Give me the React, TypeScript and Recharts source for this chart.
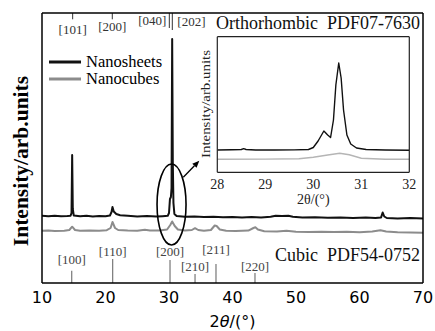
import React from 'react';
import { LineChart, Line, XAxis, YAxis, ReferenceLine, ReferenceDot, Legend } from 'recharts';

// ---------- main pattern (2θ in degrees, intensity in arbitrary units) ----------
const sheetTheta = [10, 11, 12, 13, 14, 14.5, 14.65, 14.75, 14.85, 15, 16, 17, 18, 19, 20, 20.7, 20.95, 21.1, 21.3, 21.7, 22.3, 23.5, 25, 26.5, 28, 29, 29.8, 30, 30.15, 30.3, 30.4, 30.5, 30.6, 30.7, 30.85, 31.2, 32.5, 34, 35.5, 37, 38.5, 40, 41.5, 43, 44.5, 46, 46.8, 47.8, 48.8, 49.5, 51, 53, 55, 57, 59, 61, 62.5, 63.4, 63.65, 63.9, 64.3, 66, 68, 70];
const sheetIntensity = [67.2, 66.8, 67.3, 66.7, 67.0, 67.3, 70, 128, 74, 67.5, 66.8, 67.2, 66.6, 67.0, 66.8, 67.5, 71, 76, 71.5, 69, 67.8, 67.2, 66.6, 67.0, 66.4, 66.8, 67.2, 70, 84, 86, 95, 244, 120, 80, 69, 67, 66.3, 66.6, 66.0, 66.3, 65.8, 66.1, 65.6, 65.9, 65.5, 66.3, 67.3, 67.0, 67.2, 66.2, 65.5, 65.8, 65.2, 65.5, 65.0, 65.4, 65.0, 65.6, 70.5, 66.5, 65.0, 64.6, 64.9, 64.5];

const cubeTheta = [10, 11, 12, 13.5, 14.3, 14.75, 15.2, 16, 17.5, 19, 20.2, 20.8, 21.1, 21.5, 22, 23.5, 25, 26.2, 27, 28.5, 29.7, 30.2, 30.5, 30.9, 31.4, 32.5, 33.6, 34.1, 34.6, 35.5, 36.6, 37.2, 37.5, 38, 39, 40.5, 42.5, 43.3, 43.6, 44, 45, 47, 48.5, 50, 52, 54, 56, 58, 60, 62, 63.3, 64.2, 66, 68, 70];
const cubeIntensity = [52.2, 52.5, 52, 52.3, 53, 56.3, 53, 52.2, 52.5, 52.2, 52.8, 55, 61, 55, 53, 52.4, 52.3, 53.3, 52.5, 52.4, 53.5, 58, 61.5, 57, 53.5, 52.6, 53, 54.8, 53, 52.2, 53, 57.5, 57, 53.5, 52.2, 52, 52.4, 55, 55.7, 53.5, 51.8, 51.6, 52.2, 51.2, 51, 51.3, 51, 51.3, 50.8, 51.5, 52.8, 51.6, 50.7, 50.6, 50.3];

const xTicks = [10, 20, 30, 40, 50, 60, 70];

// reference patterns
const orthoPeaks = [14.83, 21.07, 30.05, 30.52];
const orthoLabels = ['[101]', '[200]', '[040]', '[202]'];
const orthoRel = [6.3, 6.3, 15, 17];

const cubicPeaks = [14.68, 21.13, 30.16, 34.1, 37.4, 43.54];
const cubicLabels = ['[100]', '[110]', '[200]', '[210]', '[211]', '[220]'];
const cubicRel = [12.3, 24, 23, 9, 19, 10];

// ---------- inset (28–32°) ----------
const insetSheetTheta = [28, 28.3, 28.5, 28.55, 28.6, 28.8, 29.2, 29.6, 29.9, 30, 30.1, 30.22, 30.3, 30.36, 30.42, 30.47, 30.53, 30.58, 30.63, 30.7, 30.78, 30.9, 31.1, 31.5, 32];
const insetSheetIntensity = [10, 10.2, 10.5, 11.3, 10.5, 10, 10, 10.1, 10.5, 12.5, 19, 29, 25, 22.5, 40, 75, 97, 82, 50, 25, 16, 12, 10.5, 10, 9.7];
const insetCubeTheta = [28, 29, 29.7, 30, 30.3, 30.55, 30.75, 31, 31.5, 32];
const insetCubeIntensity = [0.7, 0.9, 1.3, 2.7, 5, 6.7, 5.2, 1.8, 0.8, 0.7];
const insetXTicks = [28, 29, 30, 31, 32];
const insetXMinor = [28.5, 29.5, 30.5, 31.5];
const insetYMajor = [0, 50, 100];
const insetYMinor = [25, 75];

// layout-only constants
const orthoLabelPos = ['bottom', 'bottom', 'left', 'right'];
const orthoLabelOffset = [5.2, 2.1, 3, 5];
const cubicLabelOffset = [6.7, 3.3, 4.3, 3.3, 10.3, 2.3];

const sheetData = sheetTheta.map((t, i) => ({ theta: t, intensity: sheetIntensity[i] }));
const cubeData = cubeTheta.map((t, i) => ({ theta: t, intensity: cubeIntensity[i] }));
const insetSheetData = insetSheetTheta.map((t, i) => ({ theta: t, intensity: insetSheetIntensity[i] }));
const insetCubeData = insetCubeTheta.map((t, i) => ({ theta: t, intensity: insetCubeIntensity[i] }));

const SERIF = 'Liberation Serif, Times New Roman, serif';
const SANS = 'DejaVu Sans, sans-serif';
const BLACK = '#111';
const GRAY = '#8c8c8c';

const MainXLabel = (props: any) => {
  const vb = props.viewBox;
  return (
    <text x={vb.x + vb.width / 2} y={vb.y + vb.height - 4} textAnchor="middle" fontFamily={SANS} fontSize={16} fill="#000">
      <tspan>2</tspan>
      <tspan fontStyle="italic">θ</tspan>
      <tspan>/(°)</tspan>
    </text>
  );
};

const MainYLabel = () => {
  const cx = 28;
  const cy = 161;
  return (
    <text x={cx} y={cy} transform={`rotate(-90, ${cx}, ${cy})`} textAnchor="middle" fontFamily={SERIF} fontWeight="bold" fontSize={21.5} fill="#000">
      Intensity/arb.units
    </text>
  );
};

const InsetXLabel = (props: any) => {
  const vb = props.viewBox;
  return (
    <text x={vb.x + vb.width / 2} y={vb.y + 32} textAnchor="middle" fontFamily={SERIF} fontSize={14} fill="#222">
      2θ/(°)
    </text>
  );
};

const InsetYLabel = () => {
  const cx = 14.5;
  const y0 = 128;
  return (
    <text x={cx} y={y0} transform={`rotate(-90, ${cx}, ${y0})`} textAnchor="start" fontFamily={SERIF} fontSize={12.5} fill="#222" textLength={108} lengthAdjust="spacingAndGlyphs">
      Intensity/arb.units
    </text>
  );
};

const LegendContent = (props: any) => (
  <div style={{ fontFamily: SERIF, fontSize: 16.5, color: '#000' }}>
    {[...(props.payload || [])].reverse().map((p: any) => (
      <div key={p.value} style={{ display: 'flex', alignItems: 'center', height: 17.3, lineHeight: '17.3px' }}>
        <svg width={32} height={6} style={{ display: 'block' }}>
          <line x1={0} y1={3} x2={32} y2={3} stroke={p.color} strokeWidth={3} />
        </svg>
        <span style={{ marginLeft: 5 }}>{p.value}</span>
      </div>
    ))}
  </div>
);

const EllipseShape = (props: any) => (
  <ellipse cx={props.cx} cy={props.cy} rx={14.5} ry={40.5} fill="none" stroke="#000" strokeWidth={1.6} />
);

const ArrowShape = (props: any) => {
  const { x1, y1, x2, y2 } = props;
  const ang = Math.atan2(y2 - y1, x2 - x1);
  const L = 7;
  const W = 3;
  const bx = x2 - L * Math.cos(ang);
  const by = y2 - L * Math.sin(ang);
  const px = -Math.sin(ang) * W;
  const py = Math.cos(ang) * W;
  return (
    <g>
      <line x1={x1} y1={y1} x2={bx} y2={by} stroke="#000" strokeWidth={1.3} />
      <polygon points={`${x2},${y2} ${bx + px},${by + py} ${bx - px},${by - py}`} fill="#000" />
    </g>
  );
};

const frameLine = { stroke: '#000', strokeWidth: 1.5 };

export default function App() {
  return (
    <div style={{ position: 'absolute', left: 0, top: 0, width: 435, height: 331, background: '#fff', overflow: 'hidden' }}>
      <LineChart width={435} height={331} margin={{ top: 12, right: 11, left: 41, bottom: 0 }}>
        <XAxis dataKey="theta" type="number" domain={[10, 70]} ticks={xTicks} allowDataOverflow tickLine={false} tickSize={6} tickMargin={3} axisLine={frameLine} height={48} tick={{ fontFamily: SANS, fontSize: 16, fill: '#000' }} label={MainXLabel} />
        <XAxis xAxisId="inner" dataKey="theta" type="number" domain={[10, 70]} ticks={xTicks} allowDataOverflow mirror tick={false} tickSize={5} axisLine={false} tickLine={{ stroke: '#000', strokeWidth: 1.3 }} height={1} />
        <XAxis xAxisId="top" dataKey="theta" orientation="top" type="number" domain={[10, 70]} allowDataOverflow tick={false} tickLine={false} axisLine={frameLine} height={1} />
        <YAxis type="number" domain={[0, 270]} allowDataOverflow tick={false} tickLine={false} axisLine={frameLine} width={1} label={MainYLabel} />
        <YAxis yAxisId="right" orientation="right" type="number" domain={[0, 270]} allowDataOverflow tick={false} tickLine={false} axisLine={frameLine} width={1} />
        <Legend layout="vertical" align="center" verticalAlign="middle" content={LegendContent} wrapperStyle={{ left: 49, top: 53, width: 140, height: 36 }} />

        {orthoPeaks.map((p, i) => (
          <ReferenceLine
            key={'o' + i}
            segment={[{ x: p, y: 270 }, { x: p, y: 270 - orthoRel[i] }]}
            stroke="#333"
            strokeWidth={1}
            label={{ value: orthoLabels[i], position: orthoLabelPos[i] as any, offset: orthoLabelOffset[i], fill: '#333', fontSize: 13, fontFamily: SERIF }}
          />
        ))}
        {cubicPeaks.map((p, i) => (
          <ReferenceLine
            key={'c' + i}
            segment={[{ x: p, y: 0 }, { x: p, y: cubicRel[i] }]}
            stroke="#777"
            strokeWidth={1.2}
            label={{ value: cubicLabels[i], position: 'top', offset: cubicLabelOffset[i], fill: '#444', fontSize: 13, fontFamily: SERIF }}
          />
        ))}

        <Line data={cubeData} dataKey="intensity" name="Nanocubes" stroke={GRAY} strokeWidth={2} dot={false} isAnimationActive={false} strokeLinejoin="round" />
        <Line data={sheetData} dataKey="intensity" name="Nanosheets" stroke={BLACK} strokeWidth={2} dot={false} isAnimationActive={false} strokeLinejoin="round" />

        <ReferenceDot x={30.4} y={78.5} r={1} shape={EllipseShape} />
        <ReferenceLine segment={[{ x: 32.25, y: 105.7 }, { x: 34.77, y: 122.3 }]} shape={ArrowShape} />
      </LineChart>

      <svg width={435} height={331} style={{ position: 'absolute', left: 0, top: 0, pointerEvents: 'none' }}>
        <text x={420} y={28.6} textAnchor="end" fontFamily={SERIF} fontSize={18} fill="#111">
          Orthorhombic{'\u00a0\u00a0'}PDF07-7630
        </text>
        <text x={420} y={261} textAnchor="end" fontFamily={SERIF} fontSize={18} fill="#111">
          Cubic{'\u00a0\u00a0'}PDF54-0752
        </text>
      </svg>

      <div style={{ position: 'absolute', left: 195, top: 30, width: 225, height: 180 }}>
        <LineChart width={225} height={180} margin={{ top: 5.7, right: 9.7, left: 21.3, bottom: 0 }}>
          <XAxis dataKey="theta" type="number" domain={[28, 32]} ticks={insetXTicks} allowDataOverflow tickLine={false} tickSize={4} tickMargin={2.4} axisLine={{ stroke: '#222', strokeWidth: 1.2 }} height={37.7} tick={{ fontFamily: SERIF, fontSize: 14, fill: '#222' }} label={InsetXLabel} />
          <XAxis xAxisId="major" dataKey="theta" type="number" domain={[28, 32]} ticks={insetXTicks} allowDataOverflow mirror tick={false} tickSize={5} axisLine={false} tickLine={{ stroke: '#222', strokeWidth: 1.1 }} height={1} />
          <XAxis xAxisId="minor" dataKey="theta" type="number" domain={[28, 32]} ticks={insetXMinor} allowDataOverflow mirror tick={false} tickSize={3} axisLine={false} tickLine={{ stroke: '#222', strokeWidth: 1.1 }} height={1} />
          <XAxis xAxisId="top" dataKey="theta" orientation="top" type="number" domain={[28, 32]} allowDataOverflow tick={false} tickLine={false} axisLine={{ stroke: '#222', strokeWidth: 1.2 }} height={1} />
          <YAxis type="number" domain={[-12.3, 123.3]} allowDataOverflow tick={false} tickLine={false} axisLine={{ stroke: '#222', strokeWidth: 1.2 }} width={1} label={InsetYLabel} />
          <YAxis yAxisId="major" type="number" domain={[-12.3, 123.3]} ticks={insetYMajor} allowDataOverflow mirror tick={false} tickSize={5} axisLine={false} tickLine={{ stroke: '#222', strokeWidth: 1.1 }} width={1} />
          <YAxis yAxisId="minor" type="number" domain={[-12.3, 123.3]} ticks={insetYMinor} allowDataOverflow mirror tick={false} tickSize={3} axisLine={false} tickLine={{ stroke: '#222', strokeWidth: 1.1 }} width={1} />
          <YAxis yAxisId="right" orientation="right" type="number" domain={[-12.3, 123.3]} allowDataOverflow tick={false} tickLine={false} axisLine={{ stroke: '#222', strokeWidth: 1.2 }} width={1} />
          <Line data={insetCubeData} dataKey="intensity" name="Nanocubes" stroke="#b5b5b5" strokeWidth={1.4} dot={false} isAnimationActive={false} />
          <Line data={insetSheetData} dataKey="intensity" name="Nanosheets" stroke={BLACK} strokeWidth={1.4} dot={false} isAnimationActive={false} strokeLinejoin="round" />
        </LineChart>
      </div>
    </div>
  );
}
